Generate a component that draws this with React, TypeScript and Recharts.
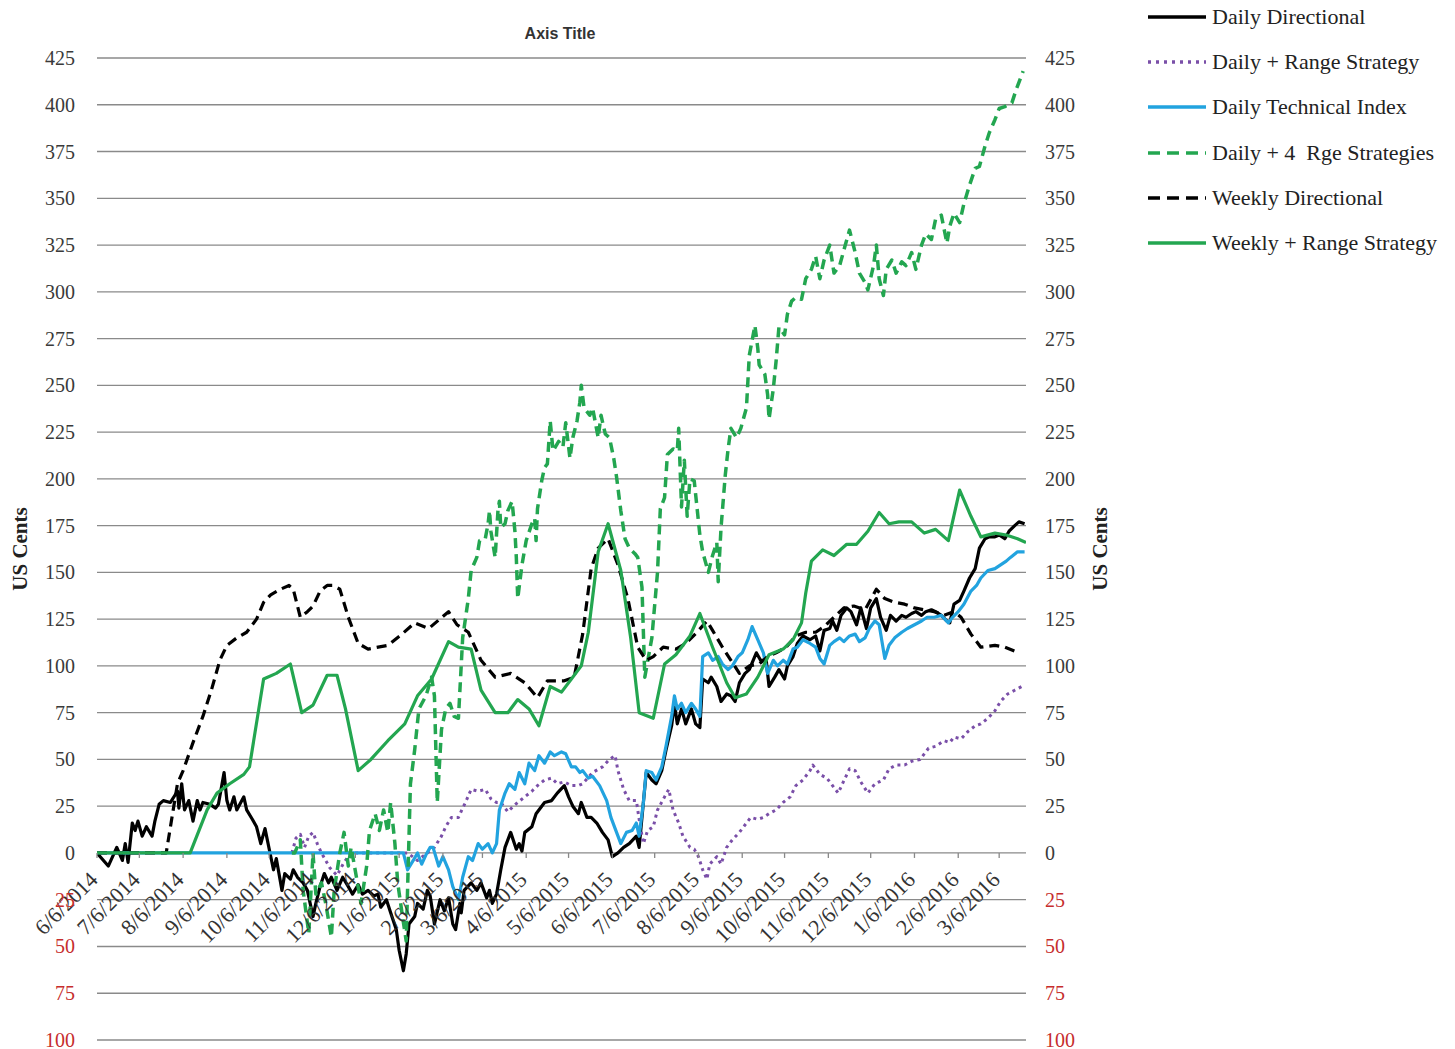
import React from "react";
import { CartesianGrid, Label, Legend, Line, LineChart, XAxis, YAxis } from "recharts";

// x = days since 6/6/2014, y = US cents
const dailyDirectional: [number, number][] = [
  [0, 0], [8, -7], [14, 3], [18, -4], [20, 5], [22, -5], [25, 16], [27, 12], [29, 17], [32, 9], [35, 14], [39, 9],
  [41, 17], [44, 26], [47, 28], [52, 27], [57, 33], [58, 24], [60, 37], [62, 23], [65, 28], [68, 17], [71, 28], [73, 23],
  [75, 27], [80, 26], [84, 24], [86, 26], [90, 43], [92, 28], [94, 23], [97, 30], [99, 23], [104, 30], [106, 23], [110, 18],
  [113, 14], [116, 5], [119, 13], [122, 2], [125, -9], [127, -3], [131, -20], [133, -11], [137, -14], [139, -9], [142, -13],
  [146, -16], [149, -20], [153, -34], [155, -27], [158, -18], [161, -11], [164, -16], [166, -13], [170, -20], [174, -13],
  [178, -18], [181, -22], [185, -17], [188, -22], [192, -20], [196, -23], [199, -22], [201, -29], [205, -25], [208, -32],
  [212, -41], [214, -52], [217, -63], [219, -54], [221, -38], [225, -34], [227, -27], [231, -30], [234, -20], [236, -23],
  [239, -38], [243, -25], [246, -31], [249, -24], [252, -38], [254, -41], [257, -27], [258, -32], [260, -20], [265, -16],
  [269, -20], [272, -16], [276, -24], [278, -20], [280, -27], [283, -22], [286, -9], [289, 3], [293, 11], [297, 2], [299, 5],
  [301, 1], [303, 11], [308, 14], [311, 21], [317, 27], [322, 28], [326, 32], [331, 36], [334, 30], [337, 25], [341, 21],
  [343, 27], [344, 25], [347, 19], [350, 19], [354, 16], [358, 11], [362, 7], [365, -2], [369, 0], [373, 3], [377, 5],
  [382, 9], [384, 3], [387, 27], [389, 43], [393, 39], [396, 37], [400, 44], [403, 55], [407, 68], [409, 80], [411, 69],
  [414, 77], [417, 69], [421, 77], [424, 69], [427, 67], [429, 93], [433, 91], [435, 94], [439, 89], [442, 81], [446, 85],
  [449, 84], [452, 81], [455, 91], [459, 96], [462, 98], [467, 107], [470, 103], [474, 103], [476, 89], [480, 94], [483, 98],
  [487, 93], [489, 100], [493, 105], [496, 112], [500, 116], [505, 114], [509, 116], [512, 108], [515, 119], [519, 120],
  [521, 124], [524, 119], [527, 127], [531, 131], [534, 129], [538, 122], [541, 131], [545, 120], [548, 131], [552, 136],
  [555, 126], [559, 119], [562, 127], [566, 124], [570, 127], [573, 126], [577, 128], [580, 129], [584, 127], [587, 129],
  [591, 130], [594, 129], [598, 127], [602, 124], [604, 123], [607, 133], [611, 135], [614, 140], [618, 147], [622, 152],
  [625, 163], [629, 168], [632, 169], [636, 169], [639, 170], [643, 168], [646, 172], [650, 175], [653, 177], [657, 176],
];

const dailyRange: [number, number][] = [
  [138, 0], [141, 8], [144, 10], [147, 3], [150, 9], [153, 11], [156, 5], [159, 0], [165, -8], [170, -12], [175, -5],
  [180, 0], [215, 0], [220, 0], [227, -4], [234, 0], [239, 3], [244, 9], [247, 14], [251, 19], [256, 19], [259, 24],
  [261, 27], [265, 34], [270, 33], [275, 34], [279, 29], [283, 27], [286, 27], [291, 22], [295, 25], [298, 27], [303, 30],
  [308, 33], [312, 36], [317, 39], [322, 40], [326, 37], [331, 38], [336, 36], [341, 36], [344, 37], [351, 43], [358, 46],
  [363, 50], [367, 52], [369, 44], [373, 34], [377, 28], [382, 28], [384, 18], [387, 5], [390, 12], [394, 14], [397, 23],
  [402, 30], [405, 34], [408, 23], [412, 16], [415, 9], [420, 3], [423, 2], [426, -2], [429, -9], [432, -14], [434, -6],
  [439, -2], [442, -6], [446, 3], [450, 7], [455, 11], [460, 16], [463, 19], [468, 18], [472, 19], [476, 21], [481, 23],
  [486, 27], [491, 30], [495, 36], [500, 39], [505, 44], [507, 47], [512, 42], [517, 40], [520, 37], [525, 32], [528, 37],
  [533, 45], [537, 44], [541, 38], [546, 32], [551, 37], [557, 39], [561, 45], [566, 47], [572, 47], [577, 49], [583, 50],
  [589, 56], [594, 57], [600, 60], [604, 59], [607, 62], [612, 61], [617, 65], [622, 68], [626, 69], [631, 72], [636, 76],
  [640, 81], [645, 85], [650, 87], [655, 89],
];

const dailyTechnical: [number, number][] = [
  [0, 0], [217, 0], [220, -9], [224, -4], [227, 0], [230, -6], [233, -1], [236, 3], [238, 3], [242, -7], [245, -2],
  [249, -9], [252, -18], [256, -25], [259, -13], [263, -2], [266, -4], [270, 5], [273, 2], [277, 5], [280, 0], [283, 5],
  [285, 23], [289, 32], [292, 37], [296, 34], [299, 43], [303, 37], [306, 48], [310, 44], [313, 52], [317, 48], [321, 54],
  [324, 52], [329, 54], [332, 53], [336, 46], [339, 46], [342, 43], [344, 44], [348, 40], [351, 41], [356, 36], [361, 28],
  [364, 19], [368, 11], [371, 5], [375, 11], [379, 12], [382, 16], [384, 9], [387, 27], [389, 44], [393, 43], [396, 39],
  [400, 46], [403, 57], [407, 73], [409, 84], [411, 77], [414, 80], [417, 75], [421, 80], [424, 77], [427, 73], [429, 105],
  [433, 107], [436, 103], [440, 105], [443, 101], [447, 98], [450, 100], [454, 105], [457, 107], [461, 114], [464, 121],
  [468, 114], [472, 107], [475, 96], [479, 103], [482, 100], [486, 103], [489, 101], [493, 109], [496, 110], [500, 114],
  [505, 112], [509, 110], [512, 104], [515, 101], [519, 111], [522, 113], [526, 115], [529, 113], [533, 116], [537, 117],
  [540, 113], [544, 115], [547, 120], [551, 124], [554, 122], [558, 104], [561, 111], [565, 115], [570, 118], [574, 120],
  [579, 122], [584, 124], [588, 126], [593, 126], [598, 127], [603, 123], [606, 126], [610, 129], [614, 133], [619, 140],
  [623, 143], [626, 147], [631, 151], [636, 152], [640, 154], [644, 156], [647, 158], [652, 161], [657, 161],
];

const daily4Range: [number, number][] = [
  [138, 0], [140, 0], [144, 7], [146, -20], [150, -43], [153, 0], [155, -22], [159, -16], [162, -27], [166, -45], [168, -20],
  [172, 0], [175, 11], [178, -7], [180, 3], [184, -14], [187, -27], [191, -7], [193, 12], [197, 21], [200, 12], [203, 23],
  [206, 11], [208, 27], [211, 5], [213, -16], [216, -32], [219, -47], [222, 37], [225, 55], [228, 77], [233, 84], [237, 94],
  [239, 84], [241, 27], [244, 66], [247, 77], [250, 80], [253, 73], [256, 72], [259, 115], [263, 136], [265, 151],
  [269, 158], [271, 167], [275, 168], [277, 176], [278, 183], [279, 172], [282, 158], [284, 183], [285, 188], [286, 174],
  [289, 176], [291, 183], [294, 188], [296, 172], [297, 158], [298, 136], [301, 154], [304, 167], [308, 176], [310, 179],
  [311, 167], [312, 184], [315, 199], [317, 206], [319, 208], [321, 231], [323, 215], [327, 220], [330, 217], [332, 230],
  [335, 211], [337, 222], [340, 231], [342, 241], [343, 250], [345, 238], [349, 234], [351, 238], [355, 222], [357, 234],
  [360, 224], [363, 222], [366, 211], [368, 201], [371, 183], [374, 168], [377, 163], [381, 160], [383, 158], [386, 142],
  [388, 94], [393, 115], [397, 150], [399, 184], [402, 190], [404, 213], [408, 216], [411, 215], [412, 227], [414, 185],
  [416, 210], [418, 180], [420, 200], [423, 199], [427, 170], [429, 161], [433, 150], [436, 159], [439, 166], [440, 145],
  [442, 174], [445, 202], [447, 216], [449, 227], [453, 222], [456, 227], [460, 238], [461, 252], [462, 266], [466, 282],
  [468, 270], [469, 261], [473, 256], [475, 245], [476, 232], [479, 248], [481, 263], [483, 281], [487, 277], [489, 288],
  [492, 295], [495, 297], [499, 296], [502, 307], [506, 312], [509, 319], [512, 307], [515, 317], [519, 325], [522, 310],
  [526, 314], [530, 325], [533, 333], [537, 321], [540, 310], [544, 305], [546, 301], [550, 314], [552, 325], [554, 307],
  [557, 298], [559, 312], [563, 317], [566, 310], [570, 316], [573, 314], [577, 321], [580, 312], [584, 325], [587, 331],
  [591, 328], [594, 339], [598, 341], [602, 326], [604, 335], [607, 342], [611, 337], [614, 347], [618, 357], [622, 366],
  [625, 367], [629, 378], [632, 385], [636, 392], [639, 398], [643, 399], [648, 401], [651, 408], [653, 412], [656, 418],
];

const weeklyDirectional: [number, number][] = [
  [0, 0], [49, 0], [57, 37], [61, 44], [68, 59], [75, 73], [81, 87], [87, 103], [92, 111], [99, 115], [106, 118], [113, 125],
  [118, 134], [123, 138], [130, 141], [136, 143], [139, 141], [144, 126], [149, 129], [153, 132], [158, 140], [163, 143],
  [167, 143], [172, 141], [178, 126], [185, 112], [192, 109], [206, 111], [216, 117], [225, 123], [235, 120], [249, 129],
  [255, 122], [263, 118], [272, 103], [282, 94], [293, 96], [303, 91], [312, 83], [319, 92], [331, 92], [338, 94],
  [344, 117], [350, 152], [355, 163], [362, 168], [369, 154], [376, 136], [383, 110], [389, 103], [394, 105], [401, 110],
  [410, 109], [417, 112], [425, 118], [432, 124], [436, 119], [443, 110], [449, 103], [455, 96], [462, 100], [469, 101],
  [475, 105], [481, 107], [488, 110], [495, 116], [502, 118], [509, 118], [515, 121], [522, 126], [529, 131], [536, 132],
  [544, 130], [552, 141], [558, 136], [565, 134], [572, 133], [579, 131], [586, 130], [593, 129], [600, 127], [607, 129],
  [612, 126], [619, 117], [626, 110], [636, 111], [643, 110], [653, 107],
];

const weeklyRange: [number, number][] = [
  [0, 0], [66, 0], [78, 23], [85, 32], [94, 37], [104, 42], [108, 46], [118, 93], [127, 96], [137, 101], [145, 75],
  [153, 79], [163, 95], [170, 95], [176, 77], [185, 44], [194, 50], [206, 60], [218, 69], [227, 84], [237, 93], [249, 113],
  [256, 110], [265, 109], [272, 87], [282, 75], [291, 75], [298, 82], [306, 77], [313, 68], [321, 89], [329, 86], [336, 93],
  [343, 100], [348, 118], [355, 161], [362, 176], [371, 151], [378, 115], [384, 75], [394, 72], [402, 101], [410, 106],
  [420, 116], [427, 128], [436, 110], [446, 91], [452, 83], [460, 85], [468, 94], [476, 106], [486, 109], [493, 114],
  [499, 123], [502, 139], [506, 156], [514, 162], [522, 159], [531, 165], [538, 165], [546, 172], [554, 182], [561, 176],
  [568, 177], [577, 177], [586, 171], [594, 173], [603, 167], [611, 194], [619, 180], [626, 169], [636, 171], [644, 170],
  [652, 168], [658, 166],
];

const monthLabels = [
  "6/6/2014", "7/6/2014", "8/6/2014", "9/6/2014", "10/6/2014", "11/6/2014", "12/6/2014", "1/6/2015", "2/6/2015",
  "3/6/2015", "4/6/2015", "5/6/2015", "6/6/2015", "7/6/2015", "8/6/2015", "9/6/2015", "10/6/2015", "11/6/2015",
  "12/6/2015", "1/6/2016", "2/6/2016", "3/6/2016",
];
const yTicks = [-100, -75, -50, -25, 0, 25, 50, 75, 100, 125, 150, 175, 200, 225, 250, 275, 300, 325, 350, 375, 400, 425];

const START = Date.UTC(2014, 5, 6);
const dayOf = (s: string) => {
  const [m, d, y] = s.split("/").map(Number);
  return Math.round((Date.UTC(y, m - 1, d) - START) / 86400000);
};
const xTicks = monthLabels.map(dayOf);
const labelByDay: Record<number, string> = {};
monthLabels.forEach((s) => (labelByDay[dayOf(s)] = s));

const toRows = (pts: [number, number][]) => pts.map(([d, v]) => ({ d, v }));

const SERIF = "'Liberation Serif', 'DejaVu Serif', serif";
const GREEN = "#23a650";

const series = [
  { name: "Daily Directional", pts: dailyDirectional, color: "#000000", dash: undefined, width: 3.2 },
  { name: "Daily + Range Strategy", pts: dailyRange, color: "#7a4fa8", dash: "3 4", width: 3 },
  { name: "Daily Technical Index", pts: dailyTechnical, color: "#22a3df", dash: undefined, width: 3.2 },
  { name: "Daily + 4  Rge Strategies", pts: daily4Range, color: GREEN, dash: "10 6", width: 3.5 },
  { name: "Weekly Directional", pts: weeklyDirectional, color: "#000000", dash: "10 6", width: 3.2 },
  { name: "Weekly + Range Strategy", pts: weeklyRange, color: GREEN, dash: undefined, width: 3.2 },
];

const W = 1447;
const H = 1046;
const PLOT_TOP = 50;
const PLOT_H = 982;
const ZERO_Y = PLOT_TOP + PLOT_H * (425 / 525);

function YTick(props: any) {
  const { x, y, payload, textAnchor } = props;
  const v = payload.value as number;
  return (
    <text x={x} y={y} dy="0.35em" textAnchor={textAnchor} fontFamily={SERIF} fontSize={20}
      fill={v < 0 ? "#c62d2d" : "#3a3a3a"}>
      {Math.abs(v)}
    </text>
  );
}

function XTick(props: any) {
  const { x, payload } = props;
  const label = labelByDay[payload.value] ?? "";
  const ax = x + 2;
  const ay = ZERO_Y + 28;
  return (
    <g>
      <line x1={x} x2={x} y1={ZERO_Y} y2={ZERO_Y + 5} stroke="#888" strokeWidth={1.3} />
      <text x={ax} y={ay} textAnchor="end" transform={`rotate(-45 ${ax} ${ay})`} fontFamily={SERIF}
        fontSize={22} fill="#333">
        {label}
      </text>
    </g>
  );
}

function LegendBox(props: any) {
  const items = (props.payload ?? []) as any[];
  return (
    <div style={{ fontFamily: SERIF, fontSize: 22, color: "#222" }}>
      {items.map((it) => {
        const s = series.find((q) => q.name === it.value)!;
        return (
          <div key={s.name} style={{ height: 45.3, display: "flex", alignItems: "center", whiteSpace: "pre" }}>
            <svg width={62} height={10} style={{ marginRight: 4 }}>
              <line x1={2} x2={60} y1={5} y2={5} stroke={s.color} strokeWidth={3.5}
                strokeDasharray={s.dash ? (s.dash === "3 4" ? "3 5" : "12 7") : undefined} />
            </svg>
            <span>{s.name}</span>
          </div>
        );
      })}
    </div>
  );
}

function usCents(side: "left" | "right") {
  return (p: any) => {
    const vb = p.viewBox;
    const cx = side === "left" ? vb.x - 17 : vb.x + 74;
    const cy = vb.y + vb.height / 2;
    return (
      <text x={cx} y={cy} textAnchor="middle" dominantBaseline="central" transform={`rotate(-90 ${cx} ${cy})`}
        fontFamily={SERIF} fontWeight="bold" fontSize={21} fill="#222">
        US Cents
      </text>
    );
  };
}

export default function App() {
  return (
    <LineChart width={W} height={H} margin={{ top: PLOT_TOP, left: 29, right: 369, bottom: 12 }}>
      <CartesianGrid yAxisId="left" vertical={false} stroke="#8a8a8a" strokeWidth={1.3} />
      <XAxis dataKey="d" type="number" domain={[0, 658]} ticks={xTicks} interval={0} tick={<XTick />}
        axisLine={false} tickLine={false} height={2} allowDataOverflow />
      <YAxis yAxisId="left" type="number" domain={[-100, 425]} ticks={yTicks} interval={0} tick={<YTick />}
        axisLine={false} tickLine={false} tickSize={0} tickMargin={22} width={60} allowDataOverflow>
        <Label content={usCents("left")} />
      </YAxis>
      <YAxis yAxisId="right" orientation="right" type="number" domain={[-100, 425]} ticks={yTicks} interval={0}
        tick={<YTick />} axisLine={false} tickLine={false} tickSize={0} tickMargin={19} width={60} allowDataOverflow>
        <Label content={usCents("right")} />
      </YAxis>
      <Legend layout="vertical" align="center" verticalAlign="middle" content={<LegendBox />}
        itemSorter={(item: any) => series.findIndex((s) => s.name === item.value)}
        wrapperStyle={{ left: 1138, top: -14, width: 309, height: 280 }} />
      {series.map((s) => (
        <Line key={s.name} yAxisId="left" name={s.name} data={toRows(s.pts)} dataKey="v" type="linear"
          stroke={s.color} strokeWidth={s.width} strokeDasharray={s.dash} dot={false} activeDot={false}
          strokeLinejoin="round" isAnimationActive={false} />
      ))}
      <text x={552} y={31} textAnchor="middle" fontFamily="'Liberation Sans', Arial, sans-serif" fontWeight="bold"
        fontSize={16} fill="#333">
        Axis Title
      </text>
    </LineChart>
  );
}
